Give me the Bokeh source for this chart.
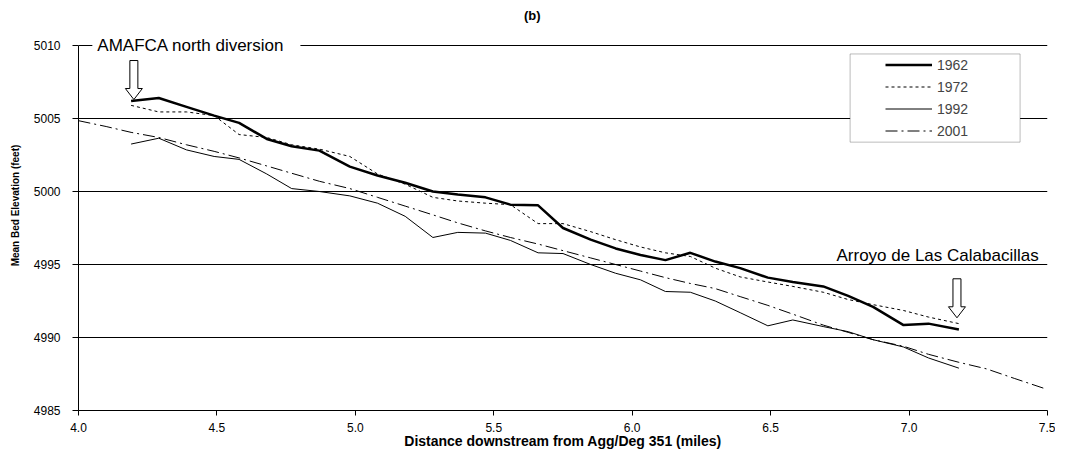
import math
from bokeh.plotting import figure
from bokeh.models import (Range1d, FixedTicker, NumeralTickFormatter, Label, Legend, LegendItem,
                          BoxAnnotation, LinearAxis)
from bokeh.embed import file_html
from bokeh.resources import INLINE

# ---------------- data ----------------
stations = [4.19, 4.29, 4.39, 4.49, 4.58, 4.68, 4.77, 4.87, 4.98, 5.08, 5.18, 5.28, 5.37, 5.47, 5.56, 5.66,
            5.75, 5.85, 5.94, 6.03, 6.12, 6.21, 6.30, 6.39, 6.49, 6.58, 6.69, 6.78, 6.87, 6.98, 7.07, 7.18]
elev_1962 = [5006.2, 5006.4, 5005.8, 5005.2, 5004.7, 5003.6, 5003.1, 5002.8, 5001.7, 5001.1, 5000.6, 5000.0,
             4999.8, 4999.6, 4999.1, 4999.05, 4997.5, 4996.7, 4996.1, 4995.65, 4995.3, 4995.8, 4995.2, 4994.75,
             4994.1, 4993.8, 4993.5, 4992.85, 4992.1, 4990.85, 4990.95, 4990.55]
elev_1972 = [5005.9, 5005.45, 5005.45, 5005.2, 5003.9, 5003.7, 5003.2, 5002.9, 5002.4, 5001.2, 5000.5, 4999.6,
             4999.35, 4999.2, 4999.1, 4997.8, 4997.8, 4997.25, 4996.7, 4996.2, 4995.8, 4995.55, 4994.75, 4994.15,
             4993.8, 4993.5, 4993.1, 4992.6, 4992.25, 4991.85, 4991.4, 4990.95]
elev_1992 = [5003.25, 5003.65, 5002.85, 5002.4, 5002.2, 5001.2, 5000.2, 5000.0, 4999.7, 4999.2, 4998.3, 4996.85,
             4997.2, 4997.15, 4996.65, 4995.8, 4995.75, 4995.0, 4994.4, 4993.95, 4993.15, 4993.1, 4992.5, 4991.7,
             4990.8, 4991.2, 4990.75, 4990.4, 4989.85, 4989.35, 4988.6, 4987.9]
stations_2001 = [4.00, 4.10, 4.19, 4.29, 4.39, 4.49, 4.58, 4.68, 4.77, 4.87, 4.98, 5.08, 5.18, 5.28, 5.37, 5.47,
                 5.56, 5.66, 5.75, 5.85, 5.94, 6.03, 6.12, 6.21, 6.30, 6.39, 6.49, 6.58, 6.69, 6.78, 6.87, 6.98,
                 7.07, 7.18, 7.28, 7.38, 7.49]
elev_2001 = [5004.85, 5004.45, 5004.05, 5003.7, 5003.2, 5002.75, 5002.3, 5001.75, 5001.25, 5000.7, 5000.2, 4999.6,
             4999.0, 4998.4, 4997.85, 4997.3, 4996.85, 4996.4, 4995.95, 4995.45, 4995.0, 4994.55, 4994.1, 4993.7,
             4993.35, 4992.8, 4992.2, 4991.6, 4990.85, 4990.35, 4989.85, 4989.4, 4988.85, 4988.3, 4987.85, 4987.2,
             4986.5]
series_names = ["1962", "1972", "1992", "2001"]
x_ticks = [4.0, 4.5, 5.0, 5.5, 6.0, 6.5, 7.0, 7.5]
y_ticks = [4985, 4990, 4995, 5000, 5005, 5010]
title_text = "(b)"
x_title = "Distance downstream from Agg/Deg 351 (miles)"
y_title = "Mean Bed Elevation (feet)"
note_upstream = "AMAFCA north diversion"
note_downstream = "Arroyo de Las Calabacillas"

# ---------------- layout ----------------
FONT = "Liberation Sans"
B_LEFT, B_RIGHT, B_TOP, B_BOTTOM = 78, 8, 0, 42
FRAME_W, FRAME_H = 969, 410
W, H = B_LEFT + FRAME_W + B_RIGHT, B_TOP + FRAME_H + B_BOTTOM
X0, X1 = 4.0, 7.5
Y0, Y1 = 4985, 5010
PX_X = FRAME_W / (X1 - X0)
PX_Y = 73.0 / 5.0                      # pixels per foot
Y_VIEW_TOP = Y0 + FRAME_H / PX_Y       # frame extends above the axis top to hold the heading

p = figure(width=W, height=H, output_backend="svg", toolbar_location=None, title=None,
           x_range=Range1d(X0, X1), y_range=Range1d(Y0, Y_VIEW_TOP),
           min_border_left=B_LEFT, min_border_right=B_RIGHT,
           min_border_top=B_TOP, min_border_bottom=B_BOTTOM)
p.outline_line_color = None
p.background_fill_color = "white"
p.border_fill_color = "white"

p.xgrid.visible = False
p.ygrid.ticker = FixedTicker(ticks=y_ticks)
p.ygrid.grid_line_color = "black"
p.ygrid.grid_line_width = 1

p.xaxis.ticker = FixedTicker(ticks=x_ticks)
p.xaxis.formatter = NumeralTickFormatter(format="0.0")
p.yaxis.ticker = FixedTicker(ticks=y_ticks)
p.yaxis.bounds = (Y0, Y1)
for ax in (p.xaxis[0], p.yaxis[0]):
    ax.axis_line_color = "black"
    ax.major_tick_line_color = "black"
    ax.minor_tick_line_color = None
    ax.major_tick_in = 0
    ax.major_label_text_font = FONT
    ax.major_label_text_font_size = "12px"
    ax.major_label_text_color = "black"
p.xaxis.major_tick_out = 5
p.xaxis.major_label_standoff = 7
p.xaxis.axis_label = x_title
p.xaxis.axis_label_text_font = FONT
p.xaxis.axis_label_text_font_size = "14px"
p.xaxis.axis_label_text_font_style = "bold"
p.xaxis.axis_label_text_color = "black"
p.xaxis.axis_label_standoff = -2
p.yaxis.major_tick_out = 6
p.yaxis.major_label_standoff = 12

# separate, tick-less axis that only carries the y title (centred where the reference puts it)
ytitle_axis = LinearAxis(ticker=FixedTicker(ticks=[]), bounds=(4988.3, Y1), axis_line_color=None,
                         major_tick_line_color=None, minor_tick_line_color=None,
                         axis_label=y_title, axis_label_text_font=FONT, axis_label_text_font_size="10px",
                         axis_label_text_font_style="bold", axis_label_text_color="black",
                         axis_label_standoff=10)
p.add_layout(ytitle_axis, "left")

# ---------------- series ----------------
r62 = p.line(stations, elev_1962, line_color="black", line_width=2.5)
r72 = p.line(stations, elev_1972, line_color="black", line_width=1, line_dash="3 3")
r92 = p.line(stations, elev_1992, line_color="black", line_width=1)
r01 = p.line(stations_2001, elev_2001, line_color="black", line_width=1, line_dash="12 4 2 4")

# legend frame
legend_box = BoxAnnotation(left=6.787, right=7.401, top=5009.42, bottom=5003.38,
                           fill_color="white", fill_alpha=1, line_color="#222222", line_width=1, level="annotation")
p.add_layout(legend_box)
legend = Legend(items=[LegendItem(label=n, renderers=[r]) for n, r in zip(series_names, [r62, r72, r92, r01])],
                location=(807, 270), padding=0, margin=0, spacing=3, label_height=19, glyph_height=19,
                glyph_width=47, label_standoff=5, label_text_font=FONT, label_text_font_size="14px",
                border_line_color=None, background_fill_alpha=0)
p.add_layout(legend)

# ---------------- annotations ----------------
def block_arrow(tip_x, tip_y):
    offs = [(0, 0), (8.5, 11), (4, 11), (4, 39), (-4, 39), (-4, 11), (-8.5, 11)]
    xs = [tip_x + dx / PX_X for dx, dy in offs]
    ys = [tip_y + dy / PX_Y for dx, dy in offs]
    p.patch(xs, ys, fill_color="white", line_color="black", line_width=1)

block_arrow(4.2, 5006.3)
block_arrow(7.173, 4991.35)

p.add_layout(Label(x=4.05, y=5010, text=note_upstream, text_font=FONT, text_font_size="17px",
                   text_baseline="middle", text_align="left", text_color="black",
                   background_fill_color="white", padding=dict(top=3, right=16, bottom=3, left=5)))
p.add_layout(Label(x=7.103, y=4995.62, text=note_downstream, text_font=FONT, text_font_size="17px",
                   text_baseline="middle", text_align="center", text_color="black"))
p.add_layout(Label(x=5.639, y=5012.05, text=title_text, text_font=FONT, text_font_size="13px",
                   text_font_style="bold", text_baseline="middle", text_align="center", text_color="black"))

open("out.html", "w").write(file_html(p, INLINE))
